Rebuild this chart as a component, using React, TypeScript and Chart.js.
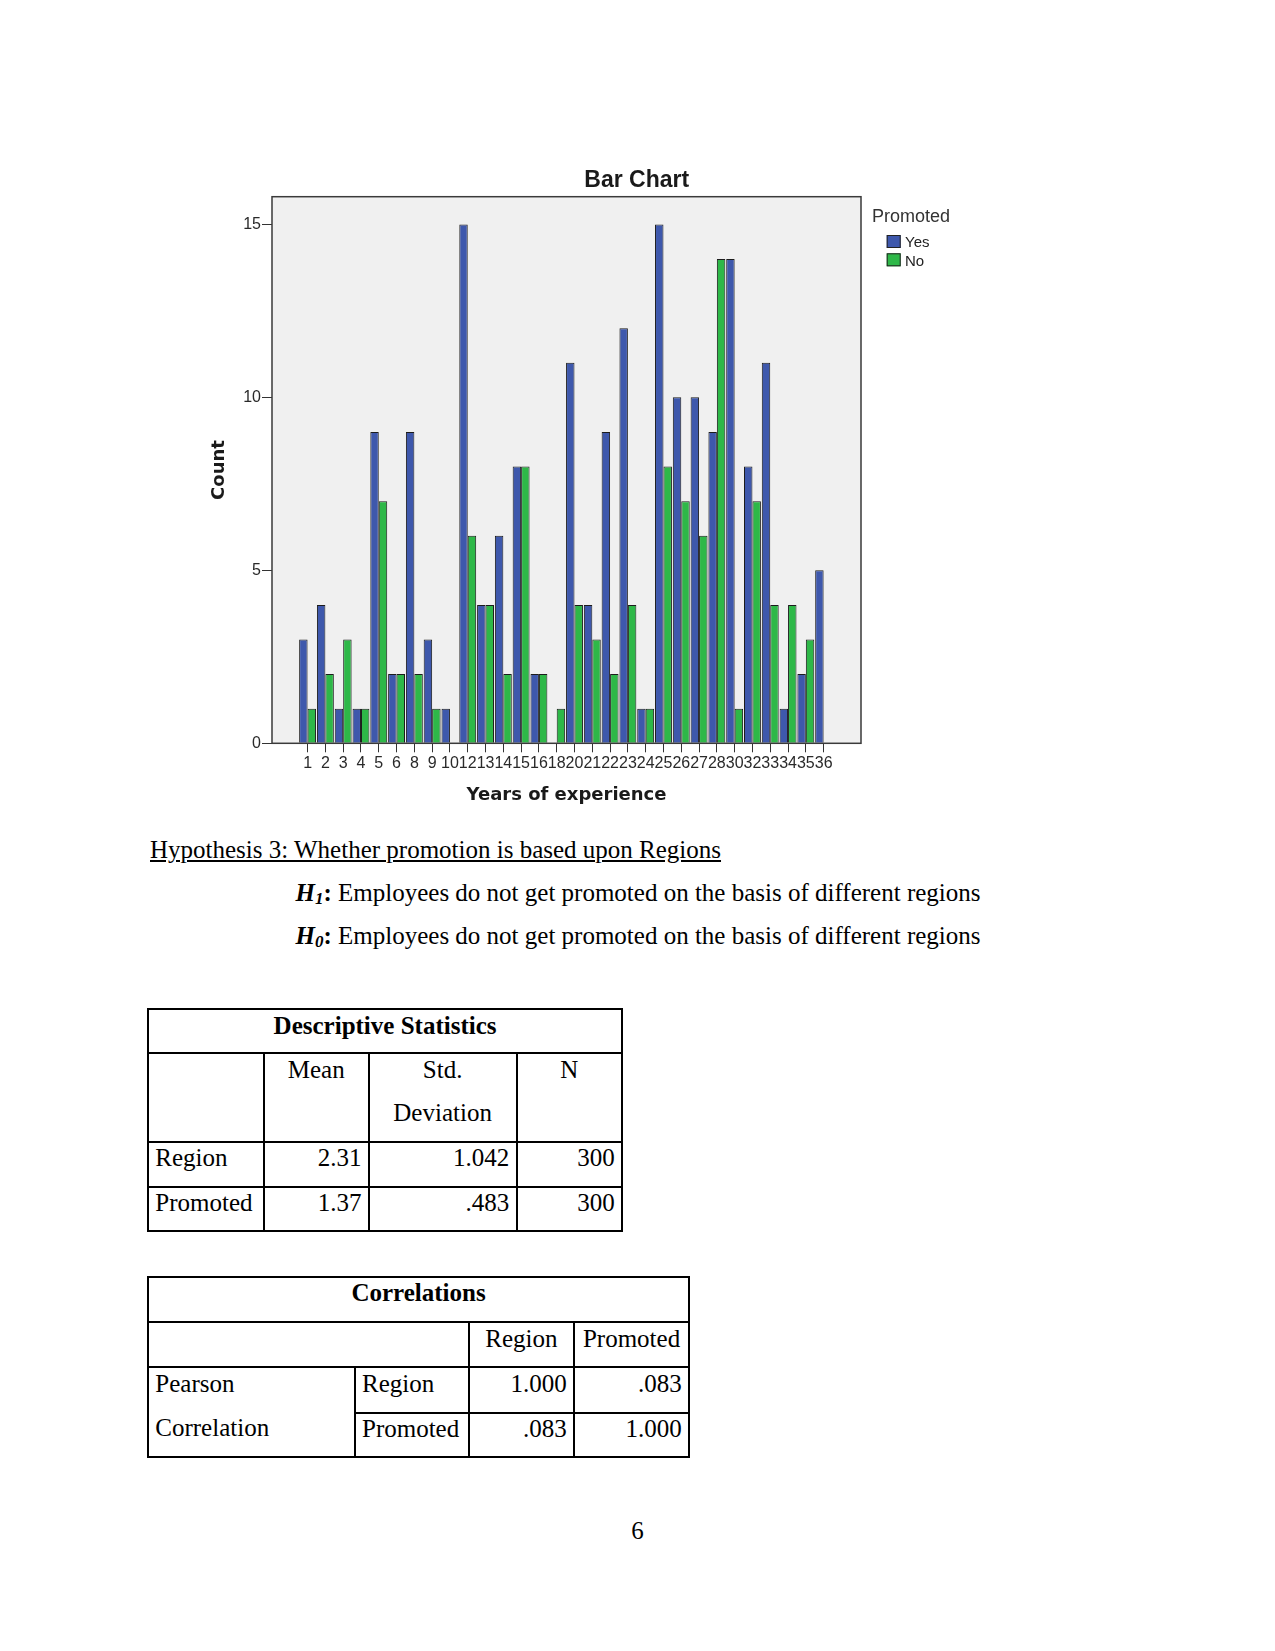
import React, { useEffect, useRef } from "react";
import { Chart, registerables } from "chart.js";

Chart.register(...registerables);

// ---- chart data ----
const years = ["1", "2", "3", "4", "5", "6", "8", "9", "10", "12", "13", "14", "15", "16", "18", "20", "21", "22", "23", "24", "25", "26", "27", "28", "30", "32", "33", "34", "35", "36"];
const promotedYes = [3, 4, 1, 1, 9, 2, 9, 3, 1, 15, 4, 6, 8, 2, 0, 11, 4, 9, 12, 1, 15, 10, 10, 9, 14, 8, 11, 1, 2, 5];
const promotedNo = [1, 2, 3, 1, 7, 2, 2, 1, 0, 6, 4, 2, 8, 2, 1, 4, 3, 2, 4, 1, 8, 7, 6, 14, 1, 7, 4, 4, 3, 0];
const seriesNames = ["Yes", "No"];
const seriesColors = ["#3e58ac", "#2eb848"];
const yTicks = [0, 5, 10, 15];
const chartTitle = "Bar Chart";
const legendTitle = "Promoted";
const xTitle = "Years of experience";
const yTitle = "Count";

const SANS = '"Liberation Sans", Arial, sans-serif';
const SERIF = '"Liberation Serif", "Times New Roman", serif';

const decorPlugin = {
  id: "decor",
  beforeDatasetsDraw(chart: any) {
    const { ctx, chartArea } = chart;
    const { left, top, right, bottom } = chartArea;
    ctx.save();
    ctx.fillStyle = "#f0f0f0";
    ctx.fillRect(left, top, right - left, bottom - top);
    ctx.restore();
  },
  afterDatasetsDraw(chart: any) {
    const { ctx, chartArea } = chart;
    const { left, top, right, bottom } = chartArea;
    ctx.save();
    ctx.strokeStyle = "#3a3a3a";
    ctx.lineWidth = 1.5;
    ctx.strokeRect(left, top, right - left, bottom - top);
    ctx.restore();
  },
  afterDraw(chart: any) {
    const { ctx, chartArea } = chart;
    ctx.save();
    // title
    ctx.fillStyle = "#1a1a1a";
    ctx.font = `bold 23px ${SANS}`;
    ctx.textAlign = "center";
    ctx.textBaseline = "alphabetic";
    ctx.fillText(chartTitle, 436.7, 37.3);
    // legend
    const lx = chartArea.right + 11;
    ctx.textAlign = "left";
    ctx.font = `18px ${SANS}`;
    ctx.fillStyle = "#333";
    ctx.fillText(legendTitle, lx, 71.7);
    ctx.font = `15px ${SANS}`;
    chart.data.datasets.forEach((ds: any, i: number) => {
      const by = 85 + i * 18.3;
      ctx.fillStyle = ds.backgroundColor;
      ctx.fillRect(lx + 14.7, by, 14, 13);
      ctx.strokeStyle = "#222";
      ctx.lineWidth = 1;
      ctx.strokeRect(lx + 14.7 + 0.5, by + 0.5, 13, 12);
      ctx.fillStyle = "#222";
      ctx.fillText(ds.label, lx + 33, by + 12.3);
    });
    ctx.restore();
  },
};

function BarChart() {
  const ref = useRef<HTMLCanvasElement | null>(null);
  useEffect(() => {
    if (!ref.current) return;
    const chart = new Chart(ref.current, {
      type: "bar",
      data: {
        datasets: [promotedYes, promotedNo].map((vals, k) => ({
          label: seriesNames[k],
          data: vals.map((v, i) => ({ x: i, y: v })),
          backgroundColor: seriesColors[k],
          borderColor: "#1c1c1c",
          borderWidth: 1,
          categoryPercentage: 0.95,
          barPercentage: 1,
        })),
      },
      options: {
        animation: false,
        responsive: false,
        maintainAspectRatio: false,
        layout: { padding: { left: 4, top: 46.7, right: 119, bottom: 10 } },
        plugins: {
          legend: { display: false },
          title: { display: false },
          tooltip: { enabled: false },
        },
        scales: {
          x: {
            type: "linear",
            min: -2,
            max: 31.1,
            bounds: "data",
            offset: false,
            grid: {
              offset: false,
              drawOnChartArea: false,
              drawTicks: true,
              tickLength: 9,
              color: "#333",
              tickColor: "#333",
              tickWidth: 1,
            },
            border: { display: false },
            ticks: {
              autoSkip: false,
              maxRotation: 0,
              minRotation: 0,
              padding: 2,
              color: "#2a2a2a",
              font: { family: SANS, size: 16 },
              callback: (v: any) => years[v as number] ?? "",
            },
            afterBuildTicks: (s: any) => {
              s.ticks = years.map((_, i) => ({ value: i }));
            },
            afterFit: (s: any) => {
              s.height = 76.7;
            },
            title: {
              display: true,
              text: xTitle,
              color: "#1a1a1a",
              font: { family: '"DejaVu Sans", Verdana, sans-serif', weight: "bold", size: 18 },
              padding: { top: 0, bottom: 14.2 },
            },
          } as any,
          y: {
            min: 0,
            max: 15.8,
            bounds: "data",
            grid: {
              drawOnChartArea: false,
              drawTicks: true,
              tickLength: 10,
              color: "#333",
              tickColor: "#333",
            },
            border: { display: false },
            ticks: {
              padding: 1,
              color: "#2a2a2a",
              font: { family: SANS, size: 16 },
            },
            afterBuildTicks: (s: any) => {
              s.ticks = yTicks.map((v) => ({ value: v }));
            },
            afterFit: (s: any) => {
              s.width = 68;
            },
            title: {
              display: true,
              text: yTitle,
              color: "#1a1a1a",
              font: { family: '"DejaVu Sans", Verdana, sans-serif', weight: "bold", size: 18 },
              padding: { top: 4.2, bottom: 0 },
            },
          } as any,
        },
      },
      plugins: [decorPlugin],
    } as any);
    return () => chart.destroy();
  }, []);
  return (
    <canvas
      ref={ref}
      width={780}
      height={680}
      style={{ position: "absolute", left: 200, top: 150, width: 780, height: 680 }}
    />
  );
}

// ---- tables ----
type Cell = {
  r: number;
  c: number;
  rs?: number;
  cs?: number;
  lines: string[];
  align: "left" | "center" | "right";
  bold?: boolean;
  gap?: number;
};

function GridTable({ xs, ys, cells }: { xs: number[]; ys: number[]; cells: Cell[] }) {
  return (
    <>
      {cells.map((cell, k) => {
        const x0 = xs[cell.c];
        const x1 = xs[cell.c + (cell.cs || 1)];
        const y0 = ys[cell.r];
        const y1 = ys[cell.r + (cell.rs || 1)];
        return (
          <div
            key={k}
            style={{
              position: "absolute",
              left: x0 - 1,
              top: y0 - 1,
              width: x1 - x0 + 2,
              height: y1 - y0 + 2,
              border: "2px solid #000",
              boxSizing: "border-box",
            }}
          >
            {cell.lines.map((t, i) => (
              <div
                key={i}
                style={{
                  position: "absolute",
                  left: 6,
                  right: 6.5,
                  top: 1.6 + i * (cell.gap || 42.7),
                  textAlign: cell.align,
                  fontWeight: cell.bold ? "bold" : "normal",
                  whiteSpace: "nowrap",
                  lineHeight: "28px",
                }}
              >
                {t}
              </div>
            ))}
          </div>
        );
      })}
    </>
  );
}

const descXs = [148.3, 264, 369, 516.7, 622.3];
const descYs = [1009, 1053.3, 1141.7, 1186.7, 1230.7];
const descCells: Cell[] = [
  { r: 0, c: 0, cs: 4, lines: ["Descriptive Statistics"], align: "center", bold: true },
  { r: 1, c: 0, lines: [], align: "left" },
  { r: 1, c: 1, lines: ["Mean"], align: "center" },
  { r: 1, c: 2, lines: ["Std.", "Deviation"], align: "center" },
  { r: 1, c: 3, lines: ["N"], align: "center" },
  { r: 2, c: 0, lines: ["Region"], align: "left" },
  { r: 2, c: 1, lines: ["2.31"], align: "right" },
  { r: 2, c: 2, lines: ["1.042"], align: "right" },
  { r: 2, c: 3, lines: ["300"], align: "right" },
  { r: 3, c: 0, lines: ["Promoted"], align: "left" },
  { r: 3, c: 1, lines: ["1.37"], align: "right" },
  { r: 3, c: 2, lines: [".483"], align: "right" },
  { r: 3, c: 3, lines: ["300"], align: "right" },
];

const corrXs = [148.3, 355, 469, 574.3, 689.3];
const corrYs = [1276.7, 1322.3, 1367.3, 1412.7, 1457.3];
const corrCells: Cell[] = [
  { r: 0, c: 0, cs: 4, lines: ["Correlations"], align: "center", bold: true },
  { r: 1, c: 0, cs: 2, lines: [], align: "left" },
  { r: 1, c: 2, lines: ["Region"], align: "center" },
  { r: 1, c: 3, lines: ["Promoted"], align: "center" },
  { r: 2, c: 0, rs: 2, lines: ["Pearson", "Correlation"], align: "left", gap: 44.3 },
  { r: 2, c: 1, lines: ["Region"], align: "left" },
  { r: 2, c: 2, lines: ["1.000"], align: "right" },
  { r: 2, c: 3, lines: [".083"], align: "right" },
  { r: 3, c: 1, lines: ["Promoted"], align: "left" },
  { r: 3, c: 2, lines: [".083"], align: "right" },
  { r: 3, c: 3, lines: ["1.000"], align: "right" },
];

const textLine: React.CSSProperties = {
  position: "absolute",
  whiteSpace: "nowrap",
  lineHeight: "28px",
  fontSize: 25,
};

function Hyp({ sub, top }: { sub: string; top: number }) {
  return (
    <div style={{ ...textLine, left: 295.5, top }}>
      <b>
        <i>H</i>
        <i style={{ fontSize: 17, position: "relative", top: 3 }}>{sub}</i>:
      </b>{" "}
      Employees do not get promoted on the basis of different regions
    </div>
  );
}

export default function App() {
  return (
    <div
      style={{
        position: "absolute",
        left: 0,
        top: 0,
        width: 1260,
        height: 1600,
        fontFamily: SERIF,
        fontSize: 25,
        color: "#000",
        background: "#fff",
      }}
    >
      <BarChart />
      <div style={{ ...textLine, left: 150, top: 836.4, textDecoration: "underline" }}>
        Hypothesis 3: Whether promotion is based upon Regions
      </div>
      <Hyp sub="1" top={879.1} />
      <Hyp sub="0" top={921.8} />
      <GridTable xs={descXs} ys={descYs} cells={descCells} />
      <GridTable xs={corrXs} ys={corrYs} cells={corrCells} />
      <div style={{ ...textLine, left: 600, width: 75, textAlign: "center", top: 1517.4 }}>6</div>
    </div>
  );
}
